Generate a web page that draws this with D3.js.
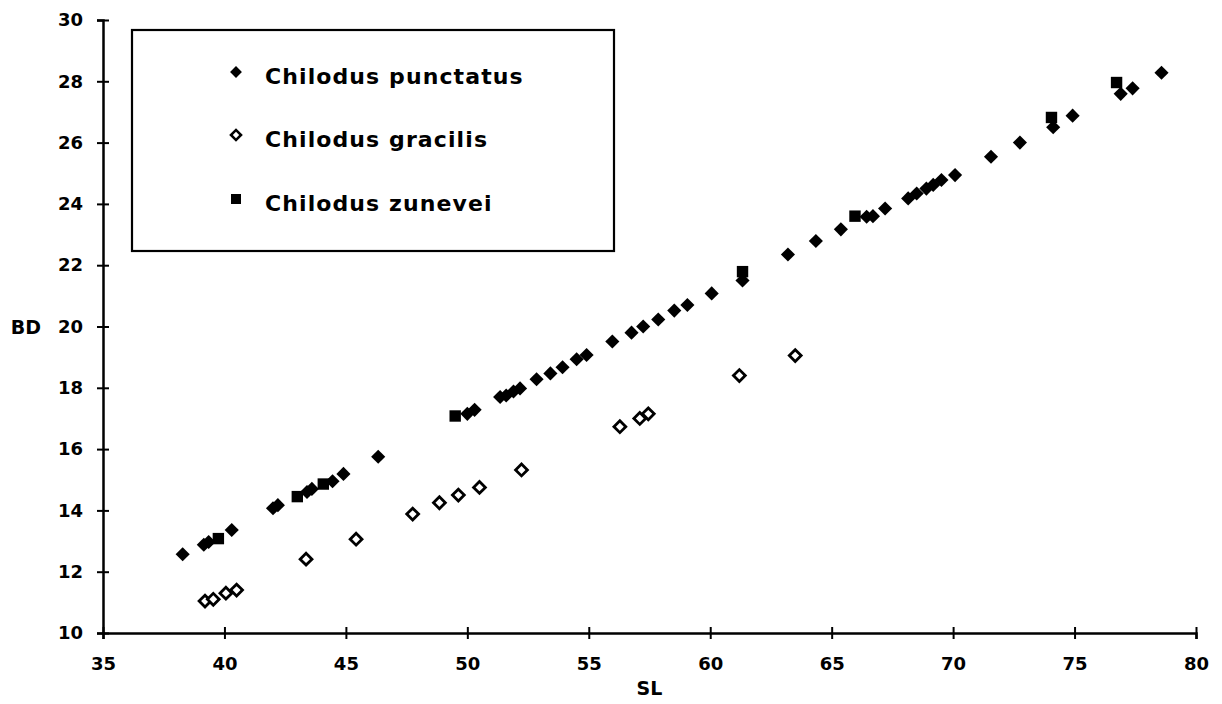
<!DOCTYPE html>
<html>
<head>
<meta charset="utf-8">
<script src="https://cdn.jsdelivr.net/npm/d3@7"></script>
<style>
  html, body { margin: 0; padding: 0; background: #fff; }
  svg { display: block; }
  text { font-family: "DejaVu Sans", sans-serif; font-weight: bold; fill: #000; }
</style>
</head>
<body>
<svg id="chart" width="1222" height="704"></svg>
<script>
// ---- data ----
const seriesNames = ["Chilodus punctatus", "Chilodus gracilis", "Chilodus zunevei"];

const punctatusSL = [38.28, 39.15, 39.35, 40.3, 42.0, 42.2, 43.4, 43.6, 44.45, 44.9, 46.33,
  50.0, 50.3, 51.35, 51.6, 51.9, 52.17, 52.85, 53.42, 53.92, 54.5, 54.91, 55.97, 56.76,
  57.24, 57.86, 58.52, 59.06, 60.06, 61.33, 63.2, 64.35, 65.38, 66.44, 66.7, 67.2, 68.15,
  68.5, 68.9, 69.18, 69.52, 70.08, 71.56, 72.75, 74.12, 74.92, 76.9, 77.39, 78.58];
const punctatusBD = [12.57, 12.88, 12.97, 13.36, 14.07, 14.17, 14.6, 14.7, 14.95, 15.19, 15.75,
  17.15, 17.28, 17.7, 17.75, 17.88, 17.98, 18.28, 18.47, 18.67, 18.93, 19.07, 19.51, 19.8,
  20.0, 20.23, 20.52, 20.7, 21.08, 21.5, 22.35, 22.79, 23.17, 23.58, 23.6, 23.85, 24.18,
  24.34, 24.5, 24.62, 24.78, 24.94, 25.54, 26.0, 26.5, 26.88, 27.59, 27.77, 28.28];

const gracilisSL = [39.2, 39.54, 40.06, 40.5, 43.36, 45.42, 47.75, 48.85, 49.63, 50.5, 52.23,
  56.28, 57.1, 57.45, 61.2, 63.5];
const gracilisBD = [11.04, 11.1, 11.3, 11.4, 12.41, 13.06, 13.88, 14.25, 14.5, 14.75, 15.32,
  16.73, 17.0, 17.15, 18.4, 19.05];

const zuneveiSL = [39.75, 43.0, 44.07, 49.5, 61.33, 65.96, 74.05, 76.73];
const zuneveiBD = [13.08, 14.45, 14.86, 17.08, 21.79, 23.6, 26.82, 27.96];

const xTicks = [35, 40, 45, 50, 55, 60, 65, 70, 75, 80];
const yTicks = [10, 12, 14, 16, 18, 20, 22, 24, 26, 28, 30];
const xLabel = "SL";
const yLabel = "BD";

// ---- layout ----
const svg = d3.select("#chart");
const x = d3.scaleLinear().domain([35, 80]).range([103, 1196]);
const y = d3.scaleLinear().domain([10, 30]).range([633, 20]);

const zip = (a, b) => a.map((v, i) => ({ sl: v, bd: b[i] }));
const punctatus = zip(punctatusSL, punctatusBD);
const gracilis = zip(gracilisSL, gracilisBD);
const zunevei = zip(zuneveiSL, zuneveiBD);

// axes
const xAxis = d3.axisBottom(x).tickValues(xTicks).tickSize(6).tickPadding(16).tickFormat(d3.format("d"));
const yAxis = d3.axisLeft(y).tickValues(yTicks).tickSize(6).tickPadding(14).tickFormat(d3.format("d"));

const gx = svg.append("g").attr("transform", `translate(0,${y(10)})`).call(xAxis);
const gy = svg.append("g").attr("transform", `translate(${x(35)},0)`).call(yAxis);

[gx, gy].forEach(g => {
  g.select(".domain").attr("stroke", "#000").attr("stroke-width", 2.5);
  g.selectAll(".tick line").attr("stroke", "#000").attr("stroke-width", 2);
  g.selectAll(".tick text").style("font-size", "18px").style("font-family", "DejaVu Sans, sans-serif")
    .style("font-weight", "bold").attr("fill", "#000");
});
// ticks cross the axis
gx.selectAll(".tick line").attr("y1", -6).attr("y2", 6);
gy.selectAll(".tick line").attr("x1", -6).attr("x2", 6);
gx.selectAll(".tick text").attr("dy", "0.85em");

svg.append("text").attr("x", (x(35) + x(80)) / 2).attr("y", 695).attr("text-anchor", "middle")
  .style("font-size", "19px").text(xLabel);
svg.append("text").attr("x", 26).attr("y", y(20) + 7).attr("text-anchor", "middle")
  .style("font-size", "19px").text(yLabel);

// symbols
const diamond = d3.symbol(d3.symbolSquare, 100);
const openDiamond = d3.symbol(d3.symbolSquare, 70);
const square = d3.symbol(d3.symbolSquare, 130);

const marks = svg.append("g");
marks.selectAll(".gra").data(gracilis).join("path")
  .attr("d", openDiamond)
  .attr("transform", d => `translate(${x(d.sl)},${y(d.bd)}) rotate(45)`)
  .attr("fill", "#fff").attr("stroke", "#000").attr("stroke-width", 2.8);
marks.selectAll(".pun").data(punctatus).join("path")
  .attr("d", diamond)
  .attr("transform", d => `translate(${x(d.sl)},${y(d.bd)}) rotate(45)`)
  .attr("fill", "#000");
marks.selectAll(".zun").data(zunevei).join("path")
  .attr("d", square)
  .attr("transform", d => `translate(${x(d.sl)},${y(d.bd)})`)
  .attr("fill", "#000");

// legend
const legend = svg.append("g");
legend.append("rect").attr("x", 132).attr("y", 30).attr("width", 482).attr("height", 221)
  .attr("fill", "#fff").attr("stroke", "#000").attr("stroke-width", 2.2);
const rowsY = [72, 135, 199];
const legendSym = [
  { d: d3.symbol(d3.symbolSquare, 70), rot: 45, fill: "#000", stroke: "none" },
  { d: d3.symbol(d3.symbolSquare, 50), rot: 45, fill: "#fff", stroke: "#000" },
  { d: d3.symbol(d3.symbolSquare, 100), rot: 0, fill: "#000", stroke: "none" }
];
seriesNames.forEach((name, i) => {
  const s = legendSym[i];
  legend.append("path").attr("d", s.d)
    .attr("transform", `translate(236,${rowsY[i]}) rotate(${s.rot})`)
    .attr("fill", s.fill).attr("stroke", s.stroke).attr("stroke-width", 2.6);
  legend.append("text").attr("x", 265).attr("y", rowsY[i] + 12)
    .style("font-size", "22px").style("letter-spacing", "1.1px").text(name);
});
</script>
</body>
</html>
